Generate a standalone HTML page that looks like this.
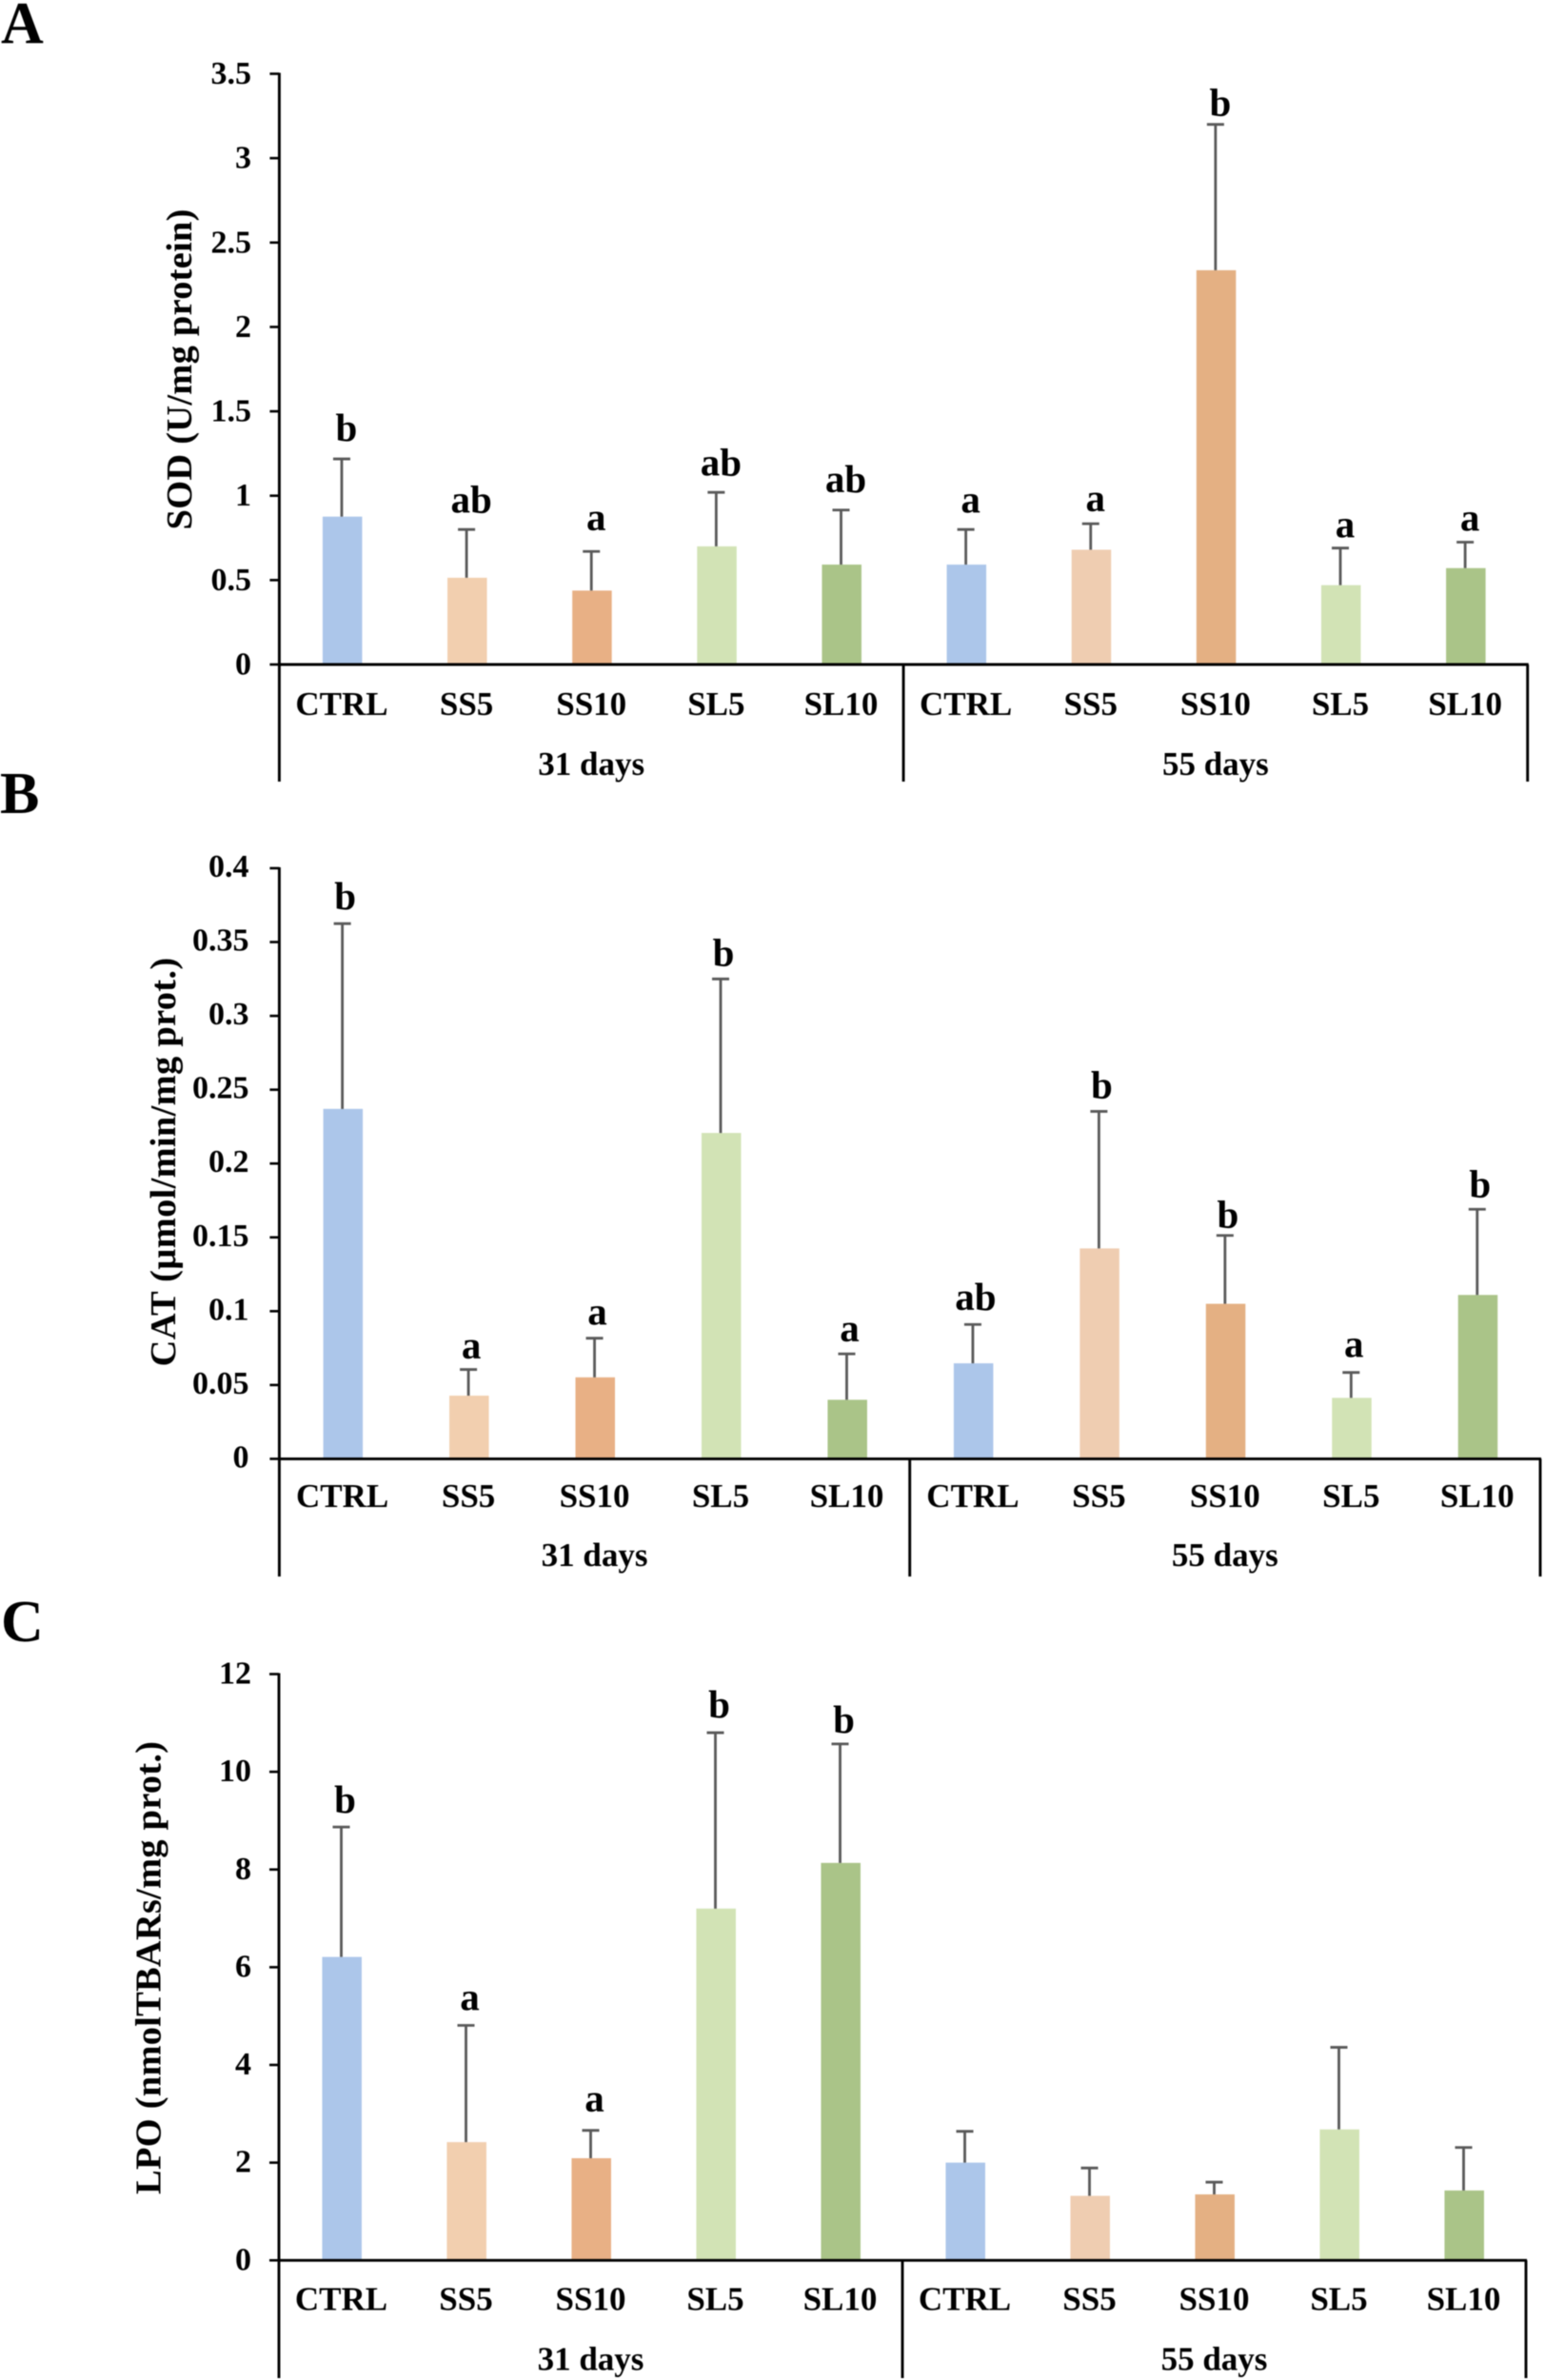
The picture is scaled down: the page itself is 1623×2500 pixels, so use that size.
<!DOCTYPE html>
<html lang="en">
<head>
<meta charset="utf-8">
<title>SOD, CAT and LPO activity by treatment</title>
<style>
  html, body { margin: 0; padding: 0; background: #ffffff; }
  svg { display: block; filter: blur(0.5px); }
  text { font-family: "Liberation Serif", serif; font-weight: bold; fill: #000000; }
</style>
</head>
<body>
<svg id="figure" xmlns="http://www.w3.org/2000/svg" width="1623" height="2500" viewBox="0 0 1623 2500"></svg>
<script>
const categories = ['CTRL', 'SS5', 'SS10', 'SL5', 'SL10', 'CTRL', 'SS5', 'SS10', 'SL5', 'SL10'];
const groups = ['31 days', '55 days'];
const barColors = ['#ACC6EA', '#F2CFAF', '#E8B085', '#D2E3B5', '#AAC488', '#ACC6EA', '#EFCDB1', '#E4B083', '#D2E3B5', '#AAC488'];

const sodValues = [0.876, 0.514, 0.438, 0.70, 0.592, 0.592, 0.68, 2.336, 0.47, 0.571];
const sodErrorTops = [1.218, 0.80, 0.67, 1.02, 0.915, 0.80, 0.834, 3.20, 0.69, 0.725];
const sodLetters = ['b', 'ab', 'a', 'ab', 'ab', 'a', 'a', 'b', 'a', 'a'];
const sodLetterLift = [0.107, 0.10, 0.124, 0.10, 0.107, 0.10, 0.073, 0.052, 0.062, 0.068];
const sodTicks = [0, 0.5, 1, 1.5, 2, 2.5, 3, 3.5];

const catValues = [0.237, 0.0428, 0.0552, 0.2207, 0.040, 0.0647, 0.1425, 0.105, 0.0413, 0.111];
const catErrorTops = [0.3625, 0.0605, 0.0817, 0.325, 0.0711, 0.091, 0.2353, 0.1513, 0.0585, 0.169];
const catLetters = ['b', 'a', 'a', 'b', 'a', 'ab', 'b', 'b', 'a', 'b'];
const catLetterLift = [0.0097, 0.0074, 0.009, 0.009, 0.0084, 0.0097, 0.009, 0.0052, 0.0103, 0.0084];
const catTicks = [0, 0.05, 0.1, 0.15, 0.2, 0.25, 0.3, 0.35, 0.4];

const lpoValues = [6.21, 2.42, 2.09, 7.2, 8.135, 2.0, 1.32, 1.35, 2.68, 1.43];
const lpoErrorTops = [8.87, 4.81, 2.66, 10.8, 10.57, 2.64, 1.89, 1.6, 4.36, 2.31];
const lpoLetters = ['b', 'a', 'a', 'b', 'b', '', '', '', '', ''];
const lpoLetterLift = [0.29, 0.31, 0.39, 0.31, 0.23, 0, 0, 0, 0, 0];
const lpoTicks = [0, 2, 4, 6, 8, 10, 12];

const panels = [
  {
    key: 'sod', letter: 'A', letterX: 1, letterY: 45,
    title: 'SOD (U/mg protein)', titleX: 201, titleY: 388, titleLen: 337,
    left: 293.4, right: 1604.7, top: 77.5, zero: 698, bottom: 821, letterShift: 5,
    max: 3.5, tickRight: 264, tickDrop: 10.5, catY: 751, groupY: 814,
    values: sodValues, errors: sodErrorTops, letters: sodLetters, lift: sodLetterLift, ticks: sodTicks
  },
  {
    key: 'cat', letter: 'B', letterX: 0, letterY: 854,
    title: 'CAT (µmol/min/mg prot.)', titleX: 184, titleY: 1220.6, titleLen: 429.5,
    left: 293.4, right: 1618, top: 912, zero: 1532.4, bottom: 1656, letterShift: 3,
    max: 0.4, tickRight: 261.5, tickDrop: 9, catY: 1583, groupY: 1645,
    values: catValues, errors: catErrorTops, letters: catLetters, lift: catLetterLift, ticks: catTicks
  },
  {
    key: 'lpo', letter: 'C', letterX: 1, letterY: 1724,
    title: 'LPO (nmolTBARs/mg prot.)', titleX: 168.4, titleY: 2067, titleLen: 476,
    left: 293, right: 1603, top: 1758.5, zero: 2374.3, bottom: 2498, letterShift: 4,
    max: 12, tickRight: 264, tickDrop: 10, catY: 2426.5, groupY: 2489.5,
    values: lpoValues, errors: lpoErrorTops, letters: lpoLetters, lift: lpoLetterLift, ticks: lpoTicks
  }
];

const SVG_NS = 'http://www.w3.org/2000/svg';
const figure = document.getElementById('figure');

function make(parent, tag, props, content) {
  const el = document.createElementNS(SVG_NS, tag);
  for (const k in props) el.setAttribute(k, props[k]);
  if (content !== undefined) el.textContent = content;
  parent.appendChild(el);
  return el;
}

function drawPanel(p) {
  const yScale = v => p.zero - (v / p.max) * (p.zero - p.top);
  const band = (p.right - p.left) / categories.length;
  const xScale = i => p.left + band * (i + 0.5);
  const barW = 41.5;

  const g = make(figure, 'g', {});
  
  

  const panelLabel = make(g, 'text', { x: p.letterX, y: p.letterY, 'font-size': 62 }, p.letter);
  
  

  const yTitle = make(g, 'text', {
    x: 0, y: 0, 'font-size': 38.5, 'text-anchor': 'middle',
    textLength: p.titleLen, lengthAdjust: 'spacing',
    transform: 'translate(' + p.titleX + ' ' + p.titleY + ') rotate(-90)'
  }, p.title);
  
  

  p.values.forEach((v, i) => {
    const bar = make(g, 'rect', {
      x: xScale(i) - barW / 2 + 0.7, y: yScale(v), width: barW, height: p.zero - yScale(v), fill: barColors[i]
    });
    
    
  });

  p.errors.forEach((e, i) => {
    const stem = make(g, 'line', {
      x1: xScale(i), x2: xScale(i), y1: yScale(p.values[i]), y2: yScale(e), stroke: '#595959', 'stroke-width': 2.8
    });
    
    
    const cap = make(g, 'line', {
      x1: xScale(i) - 9, x2: xScale(i) + 9, y1: yScale(e), y2: yScale(e), stroke: '#595959', 'stroke-width': 2.8
    });
    
    
  });

  p.letters.forEach((l, i) => {
    if (!l) return;
    const mark = make(g, 'text', {
      x: xScale(i) + p.letterShift, y: yScale(p.errors[i] + p.lift[i]), 'font-size': 41, 'text-anchor': 'middle'
    }, l);
    
    
  });

  p.ticks.forEach(t => {
    const tick = make(g, 'line', {
      x1: p.left - 10, x2: p.left, y1: yScale(t), y2: yScale(t), stroke: '#000', 'stroke-width': 2.6
    });
    
    
    const label = make(g, 'text', {
      x: p.tickRight, y: yScale(t) + p.tickDrop, 'font-size': 34, 'text-anchor': 'end'
    }, String(t));
    
    
  });

  const yAxis = make(g, 'line', {
    x1: p.left, x2: p.left, y1: p.top - 1, y2: p.bottom, stroke: '#000', 'stroke-width': 2.9
  });
  
  

  const xAxis = make(g, 'line', {
    x1: p.left, x2: p.right + 1, y1: p.zero, y2: p.zero, stroke: '#000', 'stroke-width': 2.9
  });
  
  

  [categories.length / 2, categories.length].forEach(n => {
    const x = p.left + band * n;
    const divider = make(g, 'line', {
      x1: x, x2: x, y1: p.zero, y2: p.bottom, stroke: '#000', 'stroke-width': 2.9
    });
    
    
  });

  categories.forEach((c, i) => {
    const label = make(g, 'text', {
      x: xScale(i), y: p.catY, 'font-size': 35, 'text-anchor': 'middle'
    }, c);
    
    
  });

  groups.forEach((name, i) => {
    const x = p.left + band * (categories.length / groups.length) * (i + 0.5);
    const label = make(g, 'text', {
      x: x, y: p.groupY, 'font-size': 35, 'text-anchor': 'middle'
    }, name);
    
    
  });
}

panels.forEach(drawPanel);
</script>
</body>
</html>
